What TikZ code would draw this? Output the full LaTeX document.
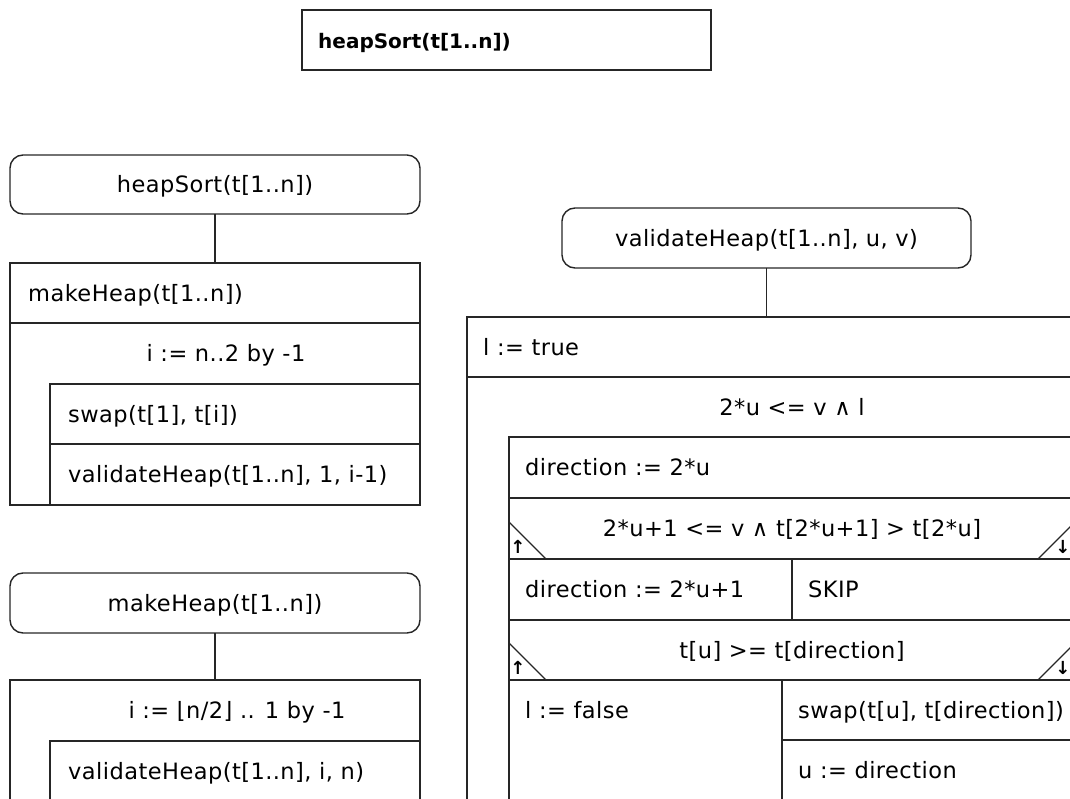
\documentclass[tikz,border=0pt]{standalone}
\usepackage{fontspec}
\setmainfont{DejaVu Sans}[LetterSpace=2]
\newfontfamily\titlefont{DejaVu Sans}
\newfontfamily\arrowfont{DejaVu Sans}
\newcommand\nsfont{\fontsize{22.5pt}{27pt}\selectfont}
\begin{document}
\begin{tikzpicture}[x=1pt,y=-1pt,
  frame/.style={draw=black!85, line width=1.4pt},
  nsbox/.style 2 args={frame, rectangle, anchor=north west,
    minimum width=#1, minimum height=#2, inner sep=0pt, outer sep=0pt},
  nshead/.style 2 args={nsbox={#1}{#2}, rounded corners=13pt},
  lbl/.style={inner sep=0pt, text height=16.4pt, text depth=0pt, font=\nsfont},
  wl/.style={lbl, anchor=west},
  cl/.style={lbl, anchor=center},
  conn/.style={frame},
  tri/.style={draw=black!85, line width=1.1pt},
  arrowlbl/.style={inner sep=0pt, font=\arrowfont\bfseries\fontsize{18pt}{18pt}\selectfont}
]
\useasboundingbox (0,0) rectangle (1070,799);
\clip (0,0) rectangle (1070,799);

% title box
\node[nsbox={409}{60}] (title) at (302,10) {};
\node[wl, font=\titlefont\bfseries\fontsize{20pt}{24pt}\selectfont] (titleText) at ([xshift=16pt]title.west) {heapSort(t[1..n])};

% heapSort
\node[nshead={410}{59}] (hsHead) at (10,155) {};
\node[cl] (hsHeadText) at (hsHead.center) {heapSort(t[1..n])};
\node[nsbox={410}{242}] (hsBody) at (10,263) {};
\draw[conn] (hsHead.south) -- (hsBody.north);
\node[nsbox={410}{60}] (hsMake) at (10,263) {};
\node[wl] (hsMakeText) at ([xshift=18pt]hsMake.west) {makeHeap(t[1..n])};
\node[cl] (hsLoopText) at (226,353.5) {i := n..2 by -1};
\node[nsbox={370}{60}] (hsSwap) at (50,384) {};
\node[wl] (hsSwapText) at ([xshift=18pt]hsSwap.west) {swap(t[1], t[i])};
\node[nsbox={370}{61}] (hsValid) at (50,444) {};
\node[wl] (hsValidText) at ([xshift=18pt]hsValid.west) {validateHeap(t[1..n], 1, i-1)};

% makeHeap
\node[nshead={410}{60}] (mhHead) at (10,573) {};
\node[cl] (mhHeadText) at (mhHead.center) {makeHeap(t[1..n])};
\node[nsbox={410}{121}] (mhBody) at (10,680) {};
\draw[conn] (mhHead.south) -- (mhBody.north);
\node[cl] (mhLoopText) at (237,710.5) {i := ⌊n/2⌋ .. 1 by -1};
\node[nsbox={370}{60}] (mhValid) at (50,741) {};
\node[wl] (mhValidText) at ([xshift=18pt]mhValid.west) {validateHeap(t[1..n], i, n)};

% validateHeap
\node[nshead={409}{60}] (vhHead) at (562,208) {};
\node[cl] (vhHeadText) at (vhHead.center) {validateHeap(t[1..n], u, v)};
\node[nsbox={608}{484}] (vhBody) at (467,317) {};
\draw[conn] (vhHead.south) -- (vhHead.south |- vhBody.north);
\node[nsbox={608}{60}] (vhInit) at (467,317) {};
\node[wl] (vhInitText) at ([xshift=16pt]vhInit.west) {l := true};
\node[cl] (vhLoopText) at (792,407) {2*u <= v ∧ l};
\node[nsbox={566}{364}] (vhLoopBody) at (509,437) {};
\node[nsbox={566}{61}] (vhDir) at (509,437) {};
\node[wl] (vhDirText) at ([xshift=16pt]vhDir.west) {direction := 2*u};

% first decision
\node[nsbox={566}{61}] (vhIf1) at (509,498) {};
\node[cl] (vhIf1Text) at (vhIf1.center) {2*u+1 <= v ∧ t[2*u+1] > t[2*u]};
\draw[tri] ([yshift=37pt]vhIf1.south west) -- ([xshift=37pt]vhIf1.south west);
\draw[tri] ([xshift=-37pt]vhIf1.south east) -- ([yshift=37pt]vhIf1.south east);
\node[arrowlbl] (vhIf1Yes) at ([xshift=9pt,yshift=12pt]vhIf1.south west) {↑};
\node[arrowlbl] (vhIf1No) at ([xshift=-12pt,yshift=12pt]vhIf1.south east) {↓};
\node[nsbox={283}{61}] (vhThen1) at (509,559) {};
\node[wl] (vhThen1Text) at ([xshift=16pt]vhThen1.west) {direction := 2*u+1};
\node[nsbox={283}{61}] (vhElse1) at (792,559) {};
\node[wl] (vhElse1Text) at ([xshift=16pt]vhElse1.west) {SKIP};

% second decision
\node[nsbox={566}{60}] (vhIf2) at (509,620) {};
\node[cl] (vhIf2Text) at (vhIf2.center) {t[u] >= t[direction]};
\draw[tri] ([yshift=37pt]vhIf2.south west) -- ([xshift=37pt]vhIf2.south west);
\draw[tri] ([xshift=-37pt]vhIf2.south east) -- ([yshift=37pt]vhIf2.south east);
\node[arrowlbl] (vhIf2Yes) at ([xshift=9pt,yshift=12pt]vhIf2.south west) {↑};
\node[arrowlbl] (vhIf2No) at ([xshift=-12pt,yshift=12pt]vhIf2.south east) {↓};
\node[nsbox={273}{121}] (vhThen2) at (509,680) {};
\node[wl] (vhThen2Text) at (525,710) {l := false};
\node[nsbox={293}{60}] (vhSwap) at (782,680) {};
\node[wl] (vhSwapText) at ([xshift=16pt]vhSwap.west) {swap(t[u], t[direction])};
\node[nsbox={293}{61}] (vhStep) at (782,740) {};
\node[wl] (vhStepText) at (798,770) {u := direction};
\end{tikzpicture}
\end{document}
